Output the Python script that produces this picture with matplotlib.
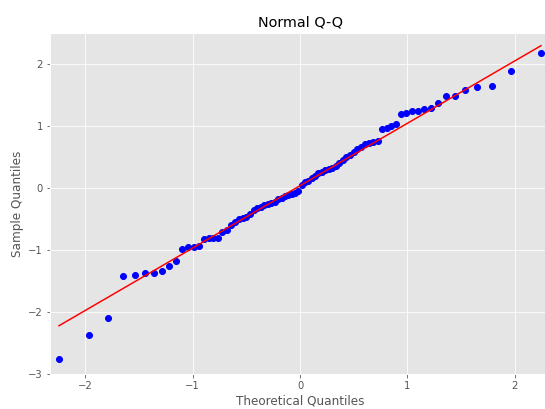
import numpy as np
import matplotlib
matplotlib.use("Agg")
import matplotlib.pyplot as plt

plt.style.use("ggplot")

# theoretical quantiles (n = 80 points) read from the x positions
theoretical = [
    -2.246, -1.965, -1.786, -1.651, -1.541, -1.446, -1.363, -1.288, -1.221, -1.157,
    -1.099, -1.044, -0.992, -0.943, -0.896, -0.851, -0.807, -0.765, -0.724, -0.684,
    -0.645, -0.608, -0.571, -0.535, -0.500, -0.465, -0.431, -0.397, -0.364, -0.331,
    -0.298, -0.266, -0.234, -0.203, -0.171, -0.140, -0.109, -0.077, -0.046, -0.015,
    0.015, 0.046, 0.077, 0.109, 0.140, 0.171, 0.203, 0.234, 0.266, 0.298,
    0.331, 0.364, 0.397, 0.431, 0.465, 0.500, 0.535, 0.571, 0.608, 0.645,
    0.684, 0.724, 0.765, 0.807, 0.851, 0.896, 0.943, 0.992, 1.044, 1.099,
    1.157, 1.221, 1.288, 1.363, 1.446, 1.541, 1.651, 1.786, 1.965, 2.246,
]

# sorted sample quantiles
sample = [
    -2.76, -2.38, -2.10, -1.42, -1.41, -1.37, -1.37, -1.34, -1.26, -1.19,
    -0.99, -0.96, -0.95, -0.94, -0.82, -0.81, -0.81, -0.81, -0.71, -0.68,
    -0.60, -0.55, -0.51, -0.49, -0.47, -0.42, -0.36, -0.33, -0.31, -0.28,
    -0.26, -0.25, -0.23, -0.19, -0.16, -0.14, -0.12, -0.10, -0.08, -0.05,
    0.05, 0.09, 0.11, 0.16, 0.19, 0.23, 0.25, 0.28, 0.30, 0.32,
    0.35, 0.40, 0.45, 0.49, 0.53, 0.57, 0.62, 0.66, 0.70, 0.72,
    0.74, 0.76, 0.95, 0.97, 1.00, 1.02, 1.19, 1.21, 1.23, 1.23,
    1.27, 1.29, 1.37, 1.48, 1.48, 1.58, 1.62, 1.64, 1.88, 2.17,
]

x = np.array(theoretical)
y = np.array(sample)

fig = plt.figure(figsize=(545 / 72, 409 / 72), dpi=72)
ax = fig.add_axes([50 / 545, 35 / 409, 500 / 545, 341 / 409])

ax.plot(x, y, "o", color="b", markerfacecolor="b", markeredgecolor="b", markersize=6)

# standardized reference line: mean + std * x
slope, intercept = y.std(ddof=1), y.mean()
ax.plot(x, slope * x + intercept, color="r", linewidth=1.5)

ax.set_xlim(-2.33, 2.33)
ax.set_ylim(-3.005, 2.495)
ax.set_xticks([-2, -1, 0, 1, 2])
ax.set_yticks([-3, -2, -1, 0, 1, 2])

ax.set_title("Normal Q-Q", fontsize=14.4, color="black")
ax.set_xlabel("Theoretical Quantiles", fontsize=12)
ax.set_ylabel("Sample Quantiles", fontsize=12)

fig.savefig("out.png", dpi=72)
